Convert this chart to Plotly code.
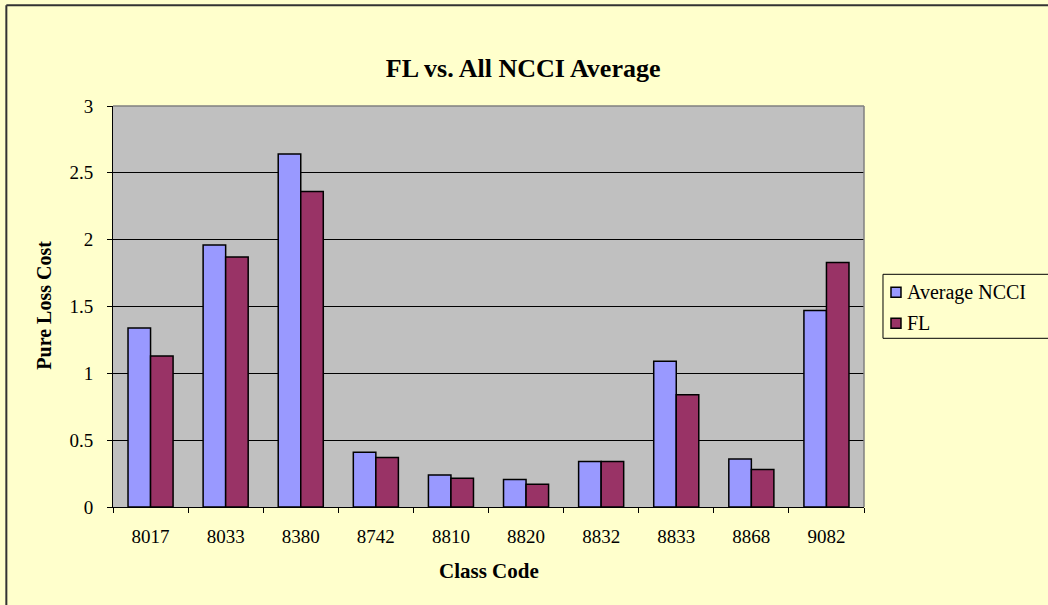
import plotly.graph_objects as go

categories = ["8017", "8033", "8380", "8742", "8810", "8820", "8832", "8833", "8868", "9082"]
avg_ncci = [1.34, 1.96, 2.64, 0.41, 0.24, 0.205, 0.34, 1.09, 0.36, 1.47]
fl = [1.13, 1.87, 2.36, 0.37, 0.215, 0.17, 0.34, 0.84, 0.28, 1.83]
series_names = ["Average NCCI", "FL"]
series_colors = ["#9999FF", "#993366"]
y_ticks = [0, 0.5, 1, 1.5, 2, 2.5, 3]
y_ticktext = ["0", "0.5", "1", "1.5", "2", "2.5", "3"]

BG = "#FFFFCC"
PLOT_BG = "#C0C0C0"
FONT = "Liberation Serif, Times New Roman, serif"

W, H = 1048, 605
L, R, T, B = 112.7, 864.0, 105.7, 506.7
pw, ph = R - L, B - T

def px_x(px):
    return (px - L) / pw

def px_y(py):
    return (B - py) / ph

fig = go.Figure()
for name, vals, col in zip(series_names, [avg_ncci, fl], series_colors):
    fig.add_trace(go.Bar(name=name, x=categories, y=vals, showlegend=False,
                         marker=dict(color=col, line=dict(color="black", width=1.5))))

fig.update_layout(
    width=W, height=H,
    margin=dict(l=L, r=W - R, t=T, b=H - B, autoexpand=False),
    paper_bgcolor=BG, plot_bgcolor=PLOT_BG,
    barmode="group", bargap=0.4, bargroupgap=0,
    font=dict(family=FONT, color="black", size=19),
    title=dict(text="<b>FL vs. All NCCI Average</b>", x=px_x(523), xref="paper",
               y=1 - 68 / H, yref="container", xanchor="center", yanchor="middle",
               font=dict(family=FONT, size=26, color="black")),
    showlegend=False,
)

fig.update_xaxes(type="category", showgrid=False, showline=True, linecolor="black", linewidth=1,
                 ticks="outside", tickson="boundaries", ticklen=5, tickcolor="black",
                 ticklabelstandoff=12, tickfont=dict(family=FONT, size=19, color="black"))
fig.update_yaxes(range=[0, 3], tickmode="array", tickvals=y_ticks, ticktext=y_ticktext,
                 showgrid=True, gridcolor="black", gridwidth=1, zeroline=False,
                 showline=True, linecolor="black", linewidth=1,
                 ticks="outside", ticklen=5, tickcolor="black", ticklabelstandoff=10,
                 tickfont=dict(family=FONT, size=19, color="black"))

# axis titles
fig.add_annotation(text="<b>Class Code</b>", x=0.5, y=px_y(571), xref="paper", yref="paper",
                   showarrow=False, xanchor="center", yanchor="middle",
                   font=dict(family=FONT, size=21, color="black"))
fig.add_annotation(text="<b>Pure Loss Cost</b>", x=px_x(44), y=px_y(305), xref="paper", yref="paper",
                   showarrow=False, xanchor="center", yanchor="middle", textangle=-90,
                   font=dict(family=FONT, size=20, color="black"))

# plot area border (top & right gray)
fig.add_shape(type="line", xref="paper", yref="paper", x0=0, x1=1, y0=1, y1=1,
              line=dict(color="#808080", width=1.5))
fig.add_shape(type="line", xref="paper", yref="paper", x0=1, x1=1, y0=0, y1=1,
              line=dict(color="#808080", width=1.5))

# chart frame (top & left visible)
fig.add_shape(type="line", xref="paper", yref="paper", x0=px_x(6), x1=px_x(1060),
              y0=px_y(5), y1=px_y(5), line=dict(color="#333333", width=2))
fig.add_shape(type="line", xref="paper", yref="paper", x0=px_x(6), x1=px_x(6),
              y0=px_y(5), y1=px_y(620), line=dict(color="#333333", width=2))

# legend box
fig.add_shape(type="rect", xref="paper", yref="paper", x0=px_x(883), x1=px_x(1070),
              y0=px_y(338), y1=px_y(274), line=dict(color="black", width=1), fillcolor=BG)
legend_rows_y = [292, 323]
for name, col, ry in zip(series_names, series_colors, legend_rows_y):
    fig.add_shape(type="rect", xref="paper", yref="paper", x0=px_x(891), x1=px_x(901),
                  y0=px_y(ry + 5), y1=px_y(ry - 5), line=dict(color="black", width=1.5),
                  fillcolor=col)
    fig.add_annotation(text=name, x=px_x(905), y=px_y(ry), xref="paper", yref="paper",
                       showarrow=False, xanchor="left", yanchor="middle",
                       font=dict(family=FONT, size=20, color="black"))

fig.write_html("out.html", config={"displayModeBar": False},
               post_script="document.body.style.margin='0';document.body.style.background='#FFFFCC';")
